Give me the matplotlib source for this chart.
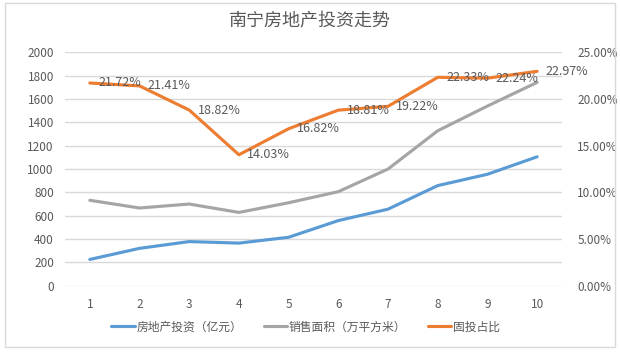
import matplotlib
matplotlib.use("Agg")
import matplotlib.pyplot as plt
from matplotlib.patches import Rectangle
from matplotlib.ticker import FuncFormatter

plt.rcParams['font.family'] = ['Noto Sans CJK SC', 'DejaVu Sans']

categories = [1, 2, 3, 4, 5, 6, 7, 8, 9, 10]
investment = [225, 320, 378, 365, 415, 558, 656, 858, 955, 1105]
sales_area = [732, 666, 700, 628, 711, 806, 1000, 1328, 1540, 1743]
share_pct = [21.72, 21.41, 18.82, 14.03, 16.82, 18.81, 19.22, 22.33, 22.24, 22.97]
series_names = ["房地产投资（亿元）", "销售面积（万平方米）", "固投占比"]
title = "南宁房地产投资走势"

TXT = "#595959"
GRID = "#D9D9D9"
BLUE = "#5B9BD5"
GRAY = "#A5A5A5"
ORANGE = "#ED7D31"

fig = plt.figure(figsize=(6.2, 3.54), dpi=100)
fig.patch.set_facecolor("white")
fig.add_artist(Rectangle((0.008, 0.02), 0.984, 0.972, transform=fig.transFigure,
                         fill=False, edgecolor="#D9D9D9", linewidth=1.0))

ax = fig.add_axes([0.1048, 0.193, 0.8016, 0.659])
ax2 = ax.twinx()

x = list(range(len(categories)))
l1, = ax.plot(x, investment, color=BLUE, lw=2.25, solid_capstyle="round", zorder=3)
l2, = ax.plot(x, sales_area, color=GRAY, lw=2.25, solid_capstyle="round", zorder=3)
share = [v / 100 for v in share_pct]
l3, = ax2.plot(x, share, color=ORANGE, lw=2.25, solid_capstyle="round", zorder=3)

for xi, v in zip(x, share_pct):
    ax2.annotate(f"{v:.2f}%", (xi, v / 100), xytext=(6, 0), textcoords="offset points",
                 ha="left", va="center", fontsize=9, color=TXT, zorder=4)

ax.set_xlim(-0.5, len(categories) - 0.5)
ax.set_ylim(0, 2000)
ax.set_yticks(range(0, 2001, 200))
ax2.set_ylim(0, 0.25)
ax2.set_yticks([0, 0.05, 0.10, 0.15, 0.20, 0.25])
ax2.yaxis.set_major_formatter(FuncFormatter(lambda v, p: f"{v*100:.2f}%"))
ax.set_xticks(x)
ax.set_xticklabels([str(c) for c in categories])

ax.grid(axis="y", color=GRID, lw=1.0)
ax.set_axisbelow(True)
for a in (ax, ax2):
    for s in a.spines.values():
        s.set_visible(False)
    a.tick_params(length=0, labelsize=8.5, colors=TXT)
ax.tick_params(axis="y", pad=8)
ax.tick_params(axis="x", pad=9)
ax2.tick_params(axis="y", pad=11)

fig.suptitle(title, x=0.5, y=0.965, fontsize=13, color=TXT)

fig.legend([l1, l2, l3], series_names, loc="center", bbox_to_anchor=(0.493, 0.076),
           ncol=3, frameon=False, fontsize=8.5, handlelength=2.0, handletextpad=0.15,
           columnspacing=1.8, labelcolor=TXT)

fig.savefig("out.png", dpi=100, facecolor="white")
